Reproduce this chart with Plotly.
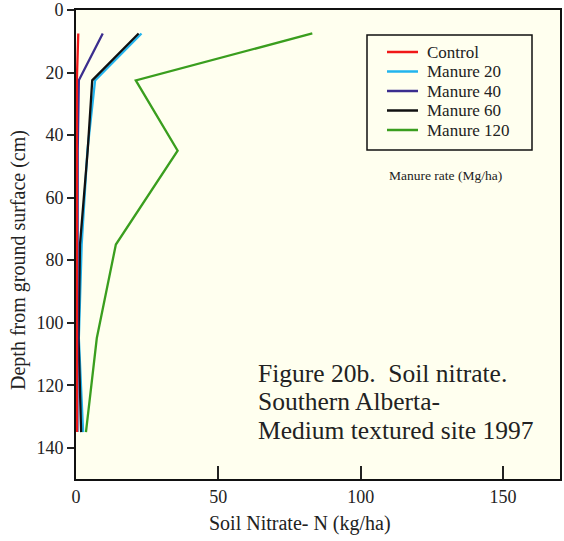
import plotly.graph_objects as go

depth = [7.5, 22.5, 45, 75, 105, 135]
control = [0.8, 0.3, 0.3, 0.3, 0.3, 0.3]
manure20 = [23.0, 6.7, 4.0, 2.0, 1.0, 2.5]
manure40 = [9.4, 1.0, 0.6, 0.5, 0.5, 0.5]
manure60 = [22.0, 5.7, 4.1, 1.4, 0.9, 1.8]
manure120 = [83.0, 21.0, 35.7, 14.0, 7.3, 3.5]

names = ["Control", "Manure 20", "Manure 40", "Manure 60", "Manure 120"]
values = [control, manure20, manure40, manure60, manure120]
colors = ["#F01818", "#22B4EE", "#3B2E8E", "#111111", "#3A9E1E"]

FF = "Liberation Serif"
TXT = "#222222"

fig = go.Figure()
for i in [1, 3, 4, 2, 0]:
    fig.add_trace(go.Scatter(x=values[i], y=depth, mode="lines", name=names[i],
                             line=dict(color=colors[i], width=2.3), showlegend=False))

W, H = 564, 541
L, R, T, B = 76, 4, 10, 62
PL, PR, PT, PB = L, W - R, T, H - B  # plot area in pixels

def px(x):
    return (x - PL) / (PR - PL)

def py(y):
    return (PB - y) / (PB - PT)

shapes = [dict(type="rect", xref="paper", yref="paper",
               x0=px(367), x1=px(532), y0=py(150), y1=py(35),
               line=dict(color="#111111", width=1.5))]
annotations = []
legend_y = [52, 71.5, 91, 110.5, 130]
for name, col, yy in zip(names, colors, legend_y):
    shapes.append(dict(type="line", xref="paper", yref="paper",
                       x0=px(387), x1=px(418), y0=py(yy), y1=py(yy),
                       line=dict(color=col, width=2.5)))
    annotations.append(dict(text=name, xref="paper", yref="paper",
                            x=px(425), y=py(yy), xanchor="left", yanchor="middle",
                            showarrow=False, font=dict(size=17, family=FF, color=TXT)))

annotations += [
    dict(text="Manure rate (Mg/ha)", xref="paper", yref="paper",
         x=px(445), y=py(175), xanchor="center", yanchor="middle",
         showarrow=False, font=dict(size=13.5, family=FF, color=TXT)),
    dict(text="Soil Nitrate- N (kg/ha)", xref="paper", yref="paper",
         x=px(300), y=py(523), xanchor="center", yanchor="middle",
         showarrow=False, font=dict(size=20, family=FF, color=TXT)),
    dict(text="Depth from ground surface (cm)", xref="paper", yref="paper",
         x=px(18), y=py(260), xanchor="center", yanchor="middle", textangle=-90,
         showarrow=False, font=dict(size=20, family=FF, color=TXT)),
]
caption = ["Figure 20b.  Soil nitrate.", "Southern Alberta-", "Medium textured site 1997"]
for line, yy in zip(caption, [373, 401.5, 430]):
    annotations.append(dict(text=line, xref="paper", yref="paper",
                            x=px(256), y=py(yy), xanchor="left", yanchor="middle",
                            showarrow=False, font=dict(size=25.5, family=FF, color=TXT)))

fig.update_layout(
    width=W, height=H,
    margin=dict(l=L, r=R, t=T, b=B, autoexpand=False),
    paper_bgcolor="white",
    plot_bgcolor="#FFFFEF",
    font=dict(family=FF, color=TXT, size=18),
    showlegend=False,
    hovermode=False,
    xaxis=dict(range=[0, 170], tickvals=[0, 50, 100, 150], ticks="inside",
               ticklen=13, tickwidth=1.5, tickcolor=TXT, automargin=False,
               showline=True, linecolor="#111111", linewidth=2, mirror=True,
               showgrid=False, zeroline=False,
               tickfont=dict(size=18, family=FF, color=TXT)),
    yaxis=dict(range=[150, 0], dtick=20, ticks="outside", ticklen=7,
               tickwidth=1.5, tickcolor=TXT, automargin=False,
               showline=True, linecolor="#111111", linewidth=2, mirror=True,
               showgrid=False, zeroline=False,
               tickfont=dict(size=18, family=FF, color=TXT)),
    shapes=shapes,
    annotations=annotations,
)

fig.write_html("out.html", config={"displayModeBar": False},
               post_script="document.body.style.margin='0';document.body.style.overflow='hidden';")
